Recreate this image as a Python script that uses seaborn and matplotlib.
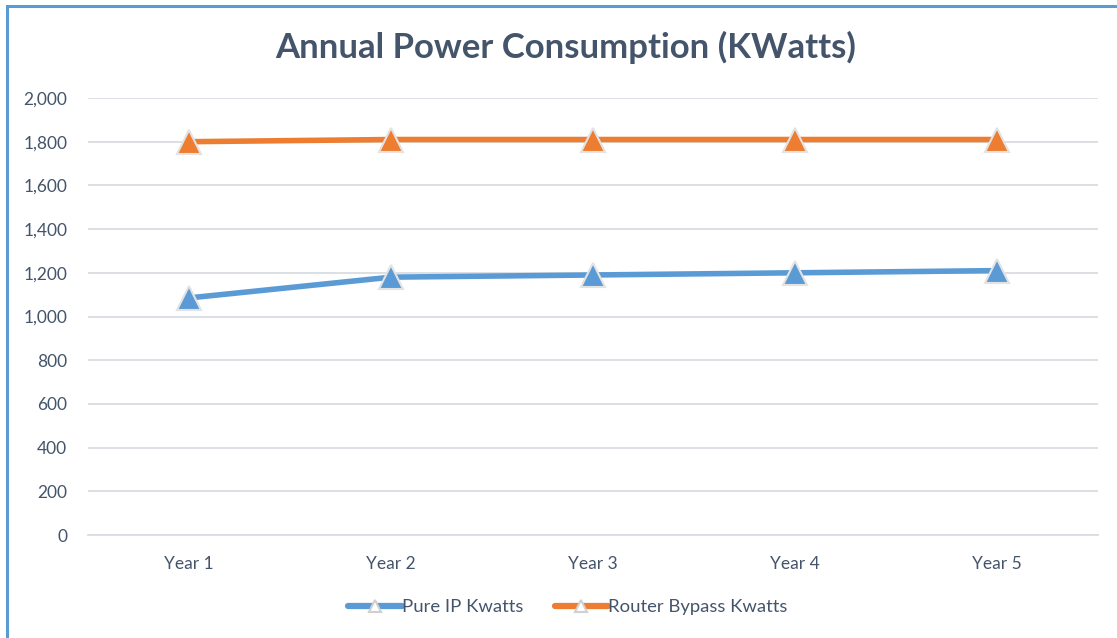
import pandas as pd
import matplotlib
matplotlib.use("Agg")
from matplotlib import pyplot as plt
from matplotlib.patches import Rectangle
import seaborn as sns

years = ["Year 1", "Year 2", "Year 3", "Year 4", "Year 5"]
pure_ip = [1085, 1180, 1190, 1200, 1210]
router_bypass = [1800, 1810, 1810, 1810, 1810]
series_names = ["Pure IP Kwatts", "Router Bypass Kwatts"]
colors = ["#5B9BD5", "#ED7D31"]

df = pd.DataFrame({
    "Year": years * 2,
    "Kwatts": pure_ip + router_bypass,
    "Series": [series_names[0]] * len(years) + [series_names[1]] * len(years),
})

sns.set_style("white")
plt.rcParams["font.family"] = ["Lato", "DejaVu Sans"]
text_color = "#44546A"
grid_color = "#D9DDE3"

fig = plt.figure(figsize=(11.17, 6.38), dpi=100)
ax = fig.add_axes([88 / 1117, 1 - 535 / 638, (1098 - 88) / 1117, (535 - 98) / 638])

sns.lineplot(data=df, x="Year", y="Kwatts", hue="Series", palette=colors,
             marker="^", markersize=17, markeredgecolor="#E3E3E3", markeredgewidth=1.5,
             linewidth=4, sort=False, ax=ax)

ax.set_ylim(0, 2000)
ax.set_xlim(-0.5, len(years) - 0.5)
ax.set_yticks(range(0, 2001, 200))
ax.yaxis.set_major_formatter(matplotlib.ticker.StrMethodFormatter("{x:,.0f}"))
ax.grid(axis="y", color=grid_color, linewidth=1.3)
ax.set_axisbelow(True)
for s in ["top", "right", "left"]:
    ax.spines[s].set_visible(False)
ax.spines["bottom"].set_color(grid_color)
ax.spines["bottom"].set_linewidth(1.3)
ax.tick_params(axis="y", length=0, labelsize=12.5, labelcolor=text_color, pad=15)
ax.tick_params(axis="x", length=0, labelsize=12.5, labelcolor=text_color, pad=15)
# small category boundary ticks
ax.set_xticks([i - 0.5 for i in range(len(years) + 1)], minor=True)
ax.tick_params(axis="x", which="minor", length=4, color=grid_color, width=1.3)
ax.set_xlabel("")
ax.set_ylabel("")

fig.suptitle("Annual Power Consumption (KWatts)", x=566 / 1117, y=1 - 47 / 638,
             va="center", fontsize=25, fontweight="bold", color=text_color)

handles, labels = ax.get_legend_handles_labels()
for h in handles:
    h.set_markerfacecolor("white")
    h.set_markeredgecolor("#D0D0D0")
    h.set_markersize(8)
    h.set_linewidth(4.5)
    h.set_solid_capstyle("round")
ax.legend(handles, labels, loc="center", bbox_to_anchor=(568 / 1117, 1 - 607 / 638),
          bbox_transform=fig.transFigure, ncol=2, frameon=False, fontsize=13.3,
          labelcolor=text_color, handlelength=2.9, handletextpad=0.0, columnspacing=1.7)

# chart frame (left and top edges visible in the reference)
fig.patches.append(Rectangle((7 / 1117, -0.05), 1.2, 1 - 6 / 638 + 0.05, transform=fig.transFigure,
                             fill=False, edgecolor="#5B9BD5", linewidth=2.2))

fig.savefig("out.png", dpi=100)
